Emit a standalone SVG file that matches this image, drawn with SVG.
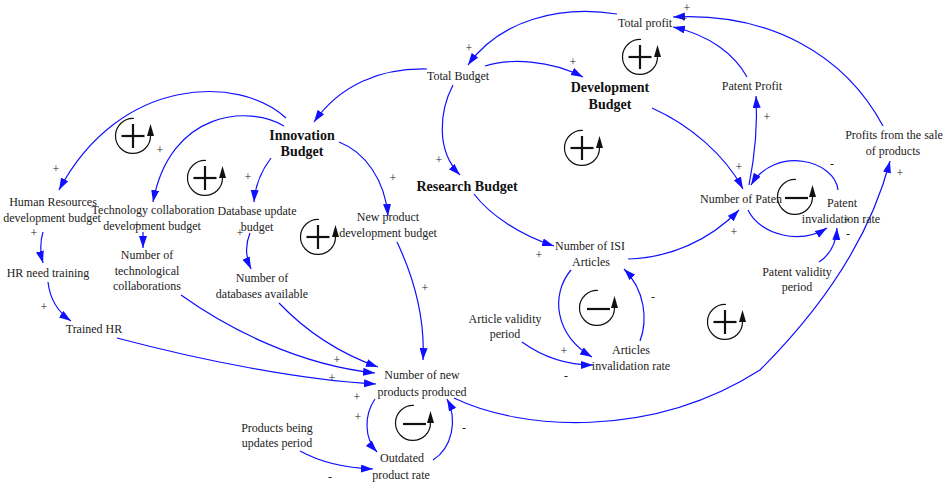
<svg xmlns="http://www.w3.org/2000/svg" width="944" height="486" viewBox="0 0 944 486">
<style>
  .t { font-family: "Liberation Serif", "Times New Roman", serif; font-size: 12px; fill: #222; text-anchor: middle; }
  .b { font-family: "Liberation Serif", "Times New Roman", serif; font-size: 14px; font-weight: bold; fill: #111; text-anchor: middle; }
  .s { font-family: "Liberation Serif", "Times New Roman", serif; font-size: 12px; fill: #222; text-anchor: middle; }
  .c { fill: none; stroke: #1010ff; stroke-width: 1.2; marker-end: url(#ah); }
  .lc { fill: none; stroke: #111; stroke-width: 1.2; }
  .sg { stroke: #111; stroke-width: 2.2; }
</style>
<defs>
  <marker id="ah" markerUnits="userSpaceOnUse" markerWidth="13" markerHeight="9" refX="12" refY="4" orient="auto">
    <path d="M0,0 L12,4 L0,8 z" fill="#1010ff"/>
  </marker>
  <g id="loopPlus">
    <path class="lc" d="M1,-17.5 A17.5 17.5 0 1 0 17.5,0"/>
    <polygon points="17.5,-12 14,0 21,0" fill="#111"/>
    <line class="sg" x1="-11.5" y1="0" x2="11.5" y2="0"/>
    <line class="sg" x1="0" y1="-12" x2="0" y2="12"/>
  </g>
  <g id="loopMinus">
    <path class="lc" d="M1,-17.5 A17.5 17.5 0 1 0 17.5,0"/>
    <polygon points="17.5,-12 14,0 21,0" fill="#111"/>
    <line class="sg" x1="-10" y1="1" x2="13" y2="1" stroke-width="2.6"/>
  </g>
</defs>
<rect width="944" height="486" fill="#fff"/>

<g id="connectors">
  <path class="c" d="M617,14 C560,5 500,20 468,65"/>
  <path class="c" d="M485,66 C510,58 550,60 583,77"/>
  <path class="c" d="M453,85 C440,110 435,150 460,175"/>
  <path class="c" d="M427,69 C380,68 340,85 314,122"/>
  <path class="c" d="M652,108 C690,125 725,155 743,189"/>
  <path class="c" d="M749,185 C754,160 758,130 756,96"/>
  <path class="c" d="M747,77 C735,55 710,35 673,27"/>
  <path class="c" d="M883,126 C845,55 770,12 673,17"/>
  <path class="c" d="M454,398 C520,430 650,440 760,370 C830,300 872,230 890,161"/>
  <path class="c" d="M286,118 C240,75 120,75 59,190"/>
  <path class="c" d="M284,126 C250,105 170,110 153,202"/>
  <path class="c" d="M271,158 C262,170 255,185 254,202"/>
  <path class="c" d="M339,142 C365,152 385,180 388,216"/>
  <path class="c" d="M474,194 C490,215 520,235 554,246"/>
  <path class="c" d="M628,259 C670,258 710,240 739,210"/>
  <path class="c" d="M571,270 C550,295 555,335 592,357"/>
  <path class="c" d="M640,341 C648,320 645,290 624,269"/>
  <path class="c" d="M522,342 C540,355 565,365 593,365"/>
  <path class="c" d="M838,190 C835,160 775,145 751,185"/>
  <path class="c" d="M748,210 C760,235 800,245 827,228"/>
  <path class="c" d="M819,262 C830,255 836,245 837,228"/>
  <path class="c" d="M43,232 C40,242 40,252 43,263"/>
  <path class="c" d="M48,282 C50,300 58,312 71,321"/>
  <path class="c" d="M143,232 L143,248"/>
  <path class="c" d="M250,233 C245,245 246,258 251,269"/>
  <path class="c" d="M181,295 C230,330 300,365 375,373"/>
  <path class="c" d="M279,303 C300,325 330,350 378,367"/>
  <path class="c" d="M117,338 C200,360 300,380 376,384"/>
  <path class="c" d="M397,242 C415,280 425,320 423,360"/>
  <path class="c" d="M375,399 C364,415 364,438 377,452"/>
  <path class="c" d="M433,460 C452,448 458,420 447,399"/>
  <path class="c" d="M300,451 C320,462 345,468 373,469"/>
</g>

<g id="loops">
  <use href="#loopPlus" x="640" y="57"/>
  <use href="#loopPlus" x="133" y="136"/>
  <use href="#loopPlus" x="205" y="178"/>
  <use href="#loopPlus" x="318" y="237"/>
  <use href="#loopPlus" x="582" y="148"/>
  <use href="#loopMinus" x="597" y="308"/>
  <use href="#loopPlus" x="725" y="322"/>
  <use href="#loopMinus" x="795" y="197"/>
  <use href="#loopMinus" x="413" y="423"/>
</g>

<g id="n-total-profit"><text class="t" x="645" y="27">Total profit</text></g>
<g id="n-total-budget"><text class="t" x="458" y="80">Total Budget</text></g>
<g id="n-development-budget"><text class="b" x="610" y="92">Development</text><text class="b" x="610" y="109">Budget</text></g>
<g id="n-innovation-budget"><text class="b" x="302" y="140">Innovation</text><text class="b" x="302" y="156">Budget</text></g>
<g id="n-research-budget"><text class="b" x="467" y="191">Research Budget</text></g>
<g id="n-hr-dev-budget"><text class="t" x="53" y="206">Human Resources</text><text class="t" x="52" y="222">development budget</text></g>
<g id="n-tech-collab-budget"><text class="t" x="153" y="214">Technology collaboration</text><text class="t" x="152" y="230">development budget</text></g>
<g id="n-database-budget"><text class="t" x="257" y="215">Database update</text><text class="t" x="257" y="231">budget</text></g>
<g id="n-new-product-budget"><text class="t" x="388" y="221">New product</text><text class="t" x="388" y="237">development budget</text></g>
<g id="n-hr-need-training"><text class="t" x="48" y="277">HR need training</text></g>
<g id="n-tech-collabs"><text class="t" x="147" y="259">Number of</text><text class="t" x="147" y="275">technological</text><text class="t" x="147" y="290">collaborations</text></g>
<g id="n-databases"><text class="t" x="262" y="282">Number of</text><text class="t" x="262" y="298">databases available</text></g>
<g id="n-trained-hr"><text class="t" x="94" y="333">Trained HR</text></g>
<g id="n-new-products"><text class="t" x="422" y="379">Number of new</text><text class="t" x="422" y="396">products produced</text></g>
<g id="n-outdated-rate"><text class="t" x="402" y="462">Outdated</text><text class="t" x="401" y="479">product rate</text></g>
<g id="n-products-update-period"><text class="t" x="277" y="432">Products being</text><text class="t" x="277" y="447">updates period</text></g>
<g id="n-isi-articles"><text class="t" x="590" y="250">Number of ISI</text><text class="t" x="591" y="266">Articles</text></g>
<g id="n-article-validity"><text class="t" x="505" y="323">Article validity</text><text class="t" x="505" y="338">period</text></g>
<g id="n-articles-invalidation"><text class="t" x="631" y="354">Articles</text><text class="t" x="631" y="370">invalidation rate</text></g>
<g id="n-patent-profit"><text class="t" x="752" y="90">Patent Profit</text></g>
<g id="n-profits-sale"><text class="t" x="894" y="139">Profits from the sale</text><text class="t" x="893" y="155">of products</text></g>
<g id="n-number-patents"><text class="t" x="741" y="203">Number of Paten</text></g>
<g id="n-patent-invalidation"><text class="t" x="842" y="207">Patent</text><text class="t" x="841" y="223">invalidation rate</text></g>
<g id="n-patent-validity"><text class="t" x="797" y="276">Patent validity</text><text class="t" x="797" y="291">period</text></g>

<g id="polarities">
  <text class="s" x="469" y="52">+</text>
  <text class="s" x="573" y="66">+</text>
  <text class="s" x="439" y="164">+</text>
  <text class="s" x="687" y="12">+</text>
  <text class="s" x="684" y="23">+</text>
  <text class="s" x="767" y="121">+</text>
  <text class="s" x="739" y="171">+</text>
  <text class="s" x="832" y="168">-</text>
  <text class="s" x="900" y="177">+</text>
  <text class="s" x="734" y="236">+</text>
  <text class="s" x="847" y="224">+</text>
  <text class="s" x="848" y="238">-</text>
  <text class="s" x="539" y="259">+</text>
  <text class="s" x="564" y="355">+</text>
  <text class="s" x="653" y="301">-</text>
  <text class="s" x="566" y="380">-</text>
  <text class="s" x="56" y="173">+</text>
  <text class="s" x="160" y="154">+</text>
  <text class="s" x="248" y="181">+</text>
  <text class="s" x="393" y="182">+</text>
  <text class="s" x="34" y="237">+</text>
  <text class="s" x="44" y="311">+</text>
  <text class="s" x="137" y="229">+</text>
  <text class="s" x="240" y="237">+</text>
  <text class="s" x="425" y="292">+</text>
  <text class="s" x="337" y="364">+</text>
  <text class="s" x="332" y="382">+</text>
  <text class="s" x="357" y="401">+</text>
  <text class="s" x="358" y="421">+</text>
  <text class="s" x="464" y="432">-</text>
  <text class="s" x="330" y="481">-</text>
</g>
</svg>
